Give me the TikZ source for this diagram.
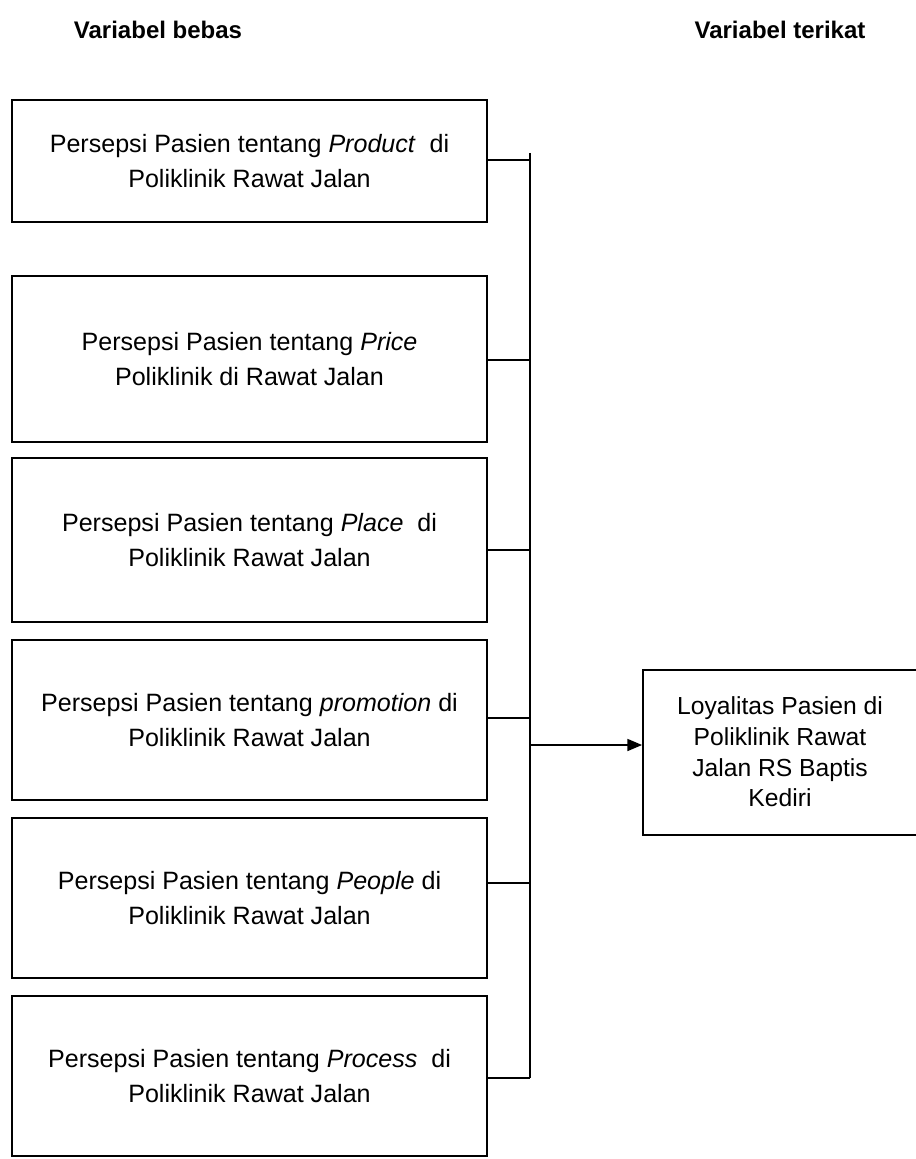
\documentclass[tikz,border=0pt]{standalone}
\usepackage{fontspec}
\setmainfont{Liberation Sans}
\usetikzlibrary{arrows.meta}
\begin{document}
\begin{tikzpicture}[x=0.75pt,y=-0.75pt,
  varbox/.style={draw,line width=1.4pt,inner sep=0pt,align=center,font=\fontsize{18.8}{26}\selectfont},
  head/.style={font=\bfseries\fontsize{18}{21}\selectfont},
  link/.style={line width=1.2pt}]
\useasboundingbox (0,0) rectangle (916,1159);
% headings
\node[head] (hb) at (158,30) {Variabel bebas};
\node[head] (ht) at (780,30) {Variabel terikat};
% independent variables
\node[varbox,minimum width=475*0.75pt,minimum height=122*0.75pt] (b1) at (249.5,161)
  {Persepsi Pasien tentang \textit{Product}\ \ di\\Poliklinik Rawat Jalan};
\node[varbox,minimum width=475*0.75pt,minimum height=166*0.75pt] (b2) at (249.5,359)
  {Persepsi Pasien tentang \textit{Price}\\Poliklinik di Rawat Jalan};
\node[varbox,minimum width=475*0.75pt,minimum height=164*0.75pt] (b3) at (249.5,540)
  {Persepsi Pasien tentang \textit{Place}\ \ di\\Poliklinik Rawat Jalan};
\node[varbox,minimum width=475*0.75pt,minimum height=160*0.75pt] (b4) at (249.5,720)
  {Persepsi Pasien tentang \textit{promotion} di\\Poliklinik Rawat Jalan};
\node[varbox,minimum width=475*0.75pt,minimum height=160*0.75pt] (b5) at (249.5,898)
  {Persepsi Pasien tentang \textit{People} di\\Poliklinik Rawat Jalan};
\node[varbox,minimum width=475*0.75pt,minimum height=160*0.75pt] (b6) at (249.5,1076)
  {Persepsi Pasien tentang \textit{Process}\ \ di\\Poliklinik Rawat Jalan};
% dependent variable
\node[varbox,minimum width=276*0.75pt,minimum height=165*0.75pt] (dv) at (781,752.5) {};
\node[align=center,font=\fontsize{18.5}{23}\selectfont] (dvt) at (780,752)
  {Loyalitas Pasien di\\Poliklinik Rawat\\Jalan RS Baptis\\Kediri};
% collecting line
\coordinate (top) at (530,153);
\coordinate (bot) at (530,1078);
\coordinate (mid) at (530,745);
\draw[link] (top) -- (bot);
\draw[link] (b1.east |- 0,160) -- (530,160);
\draw[link] (b2.east |- 0,360) -- (530,360);
\draw[link] (b3.east |- 0,550) -- (530,550);
\draw[link] (b4.east |- 0,718) -- (530,718);
\draw[link] (b5.east |- 0,883) -- (530,883);
\draw[link] (b6.east |- 0,1078) -- (bot);
\draw[link,-{Triangle[length=11pt,width=9pt]}] (mid) -- (dv.west |- mid);
\end{tikzpicture}
\end{document}
